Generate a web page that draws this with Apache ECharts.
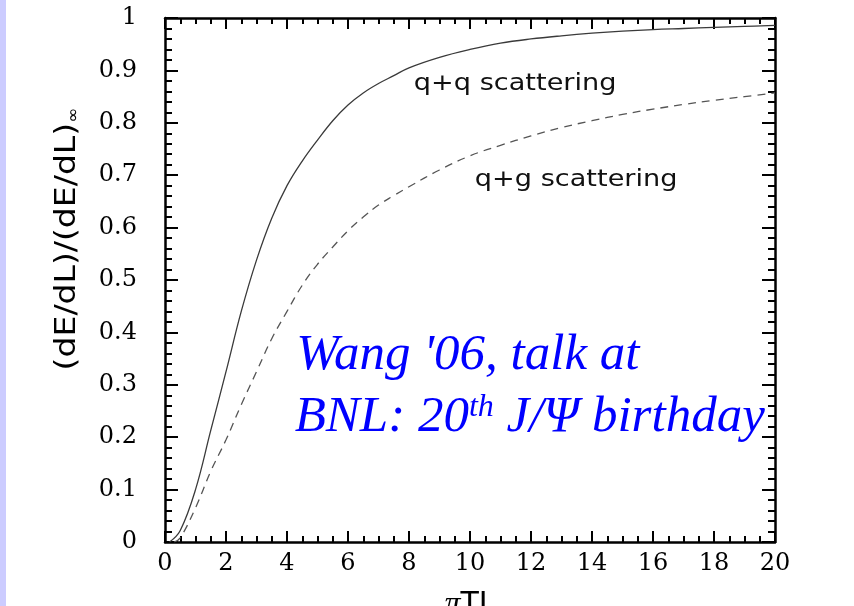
<!DOCTYPE html>
<html>
<head>
<meta charset="utf-8">
<script src="https://cdn.jsdelivr.net/npm/echarts@6/dist/echarts.min.js"></script>
<style>html,body{margin:0;padding:0;background:#fff;}#c{width:854px;height:606px;}</style>
</head>
<body>
<div id="c"></div>
<script>
// q+q scattering (solid)
const qqX = [0.15, 0.5, 1, 1.5, 2, 2.5, 3, 3.5, 4, 4.5, 5, 5.5, 6, 6.5, 7, 7.5, 8, 9, 10, 11, 12, 13, 14, 15, 16, 17, 18, 19, 20];
const qqY = [0, 0.022, 0.1, 0.213, 0.325, 0.44, 0.538, 0.618, 0.68, 0.727, 0.767, 0.804, 0.834, 0.857, 0.875, 0.89, 0.905, 0.925, 0.94, 0.952, 0.96, 0.966, 0.971, 0.975, 0.978, 0.98, 0.982, 0.984, 0.986];
// q+g scattering (dashed)
const qgX = [0.3, 0.5, 1, 1.5, 2, 2.5, 3, 3.5, 4, 4.5, 5, 5.5, 6, 6.5, 7, 7.5, 8, 9, 10, 11, 12, 13, 14, 15, 16, 17, 18, 19, 20];
const qgY = [0, 0.008, 0.065, 0.135, 0.195, 0.262, 0.325, 0.388, 0.44, 0.49, 0.53, 0.563, 0.594, 0.62, 0.643, 0.661, 0.678, 0.71, 0.737, 0.757, 0.775, 0.791, 0.804, 0.816, 0.826, 0.835, 0.843, 0.85, 0.857];
// axis ranges / labels
const xRange = [0, 20, 2];
const yRange = [0, 1, 0.1];
const xTitleParts = ['π', 'TL'];
const yTitleMain = '(dE/dL)/(dE/dL)';
const yTitleSub = '∞';
const annQQ = {text: 'q+q scattering', at: [11.48, 0.874]};
const annQG = {text: 'q+g scattering', at: [13.48, 0.691]};
const noteLine1 = {text: "Wang '06, talk at", at: [4.3, 0.355]};
const noteLine2 = {pre: 'BNL: 20', sup: 'th', post: ' J/Ψ birthday', at: [4.25, 0.238]};

const qqData = qqX.map((x, i) => [x, qqY[i]]);
const qgData = qgX.map((x, i) => [x, qgY[i]]);

const chart = echarts.init(document.getElementById('c'), null, {renderer: 'canvas'});

const tickFont = {fontFamily: 'DejaVu Serif', fontSize: 24, color: '#000'};
function xAxisCfg(pos, showLabel) {
  return {
    type: 'value', position: pos, min: xRange[0], max: xRange[1], interval: xRange[2],
    axisLine: {show: true, onZero: false, lineStyle: {color: '#000', width: 2.5}},
    axisTick: {show: true, inside: true, length: 11, lineStyle: {color: '#000', width: 2}},
    minorTick: {show: true, splitNumber: 4, length: 6, lineStyle: {color: '#000', width: 2}},
    splitLine: {show: false},
    axisLabel: Object.assign({show: showLabel, margin: 10}, tickFont),
    name: showLabel ? '{p|' + xTitleParts[0] + '}{t|' + xTitleParts[1] + '}' : '',
    nameLocation: 'middle', nameGap: 47,
    nameTextStyle: {
      rich: {
        p: {fontFamily: 'Liberation Serif', fontStyle: 'italic', fontSize: 32, color: '#000'},
        t: {fontFamily: 'DejaVu Sans', fontSize: 30, color: '#000'}
      }
    }
  };
}
function yAxisCfg(pos, showLabel) {
  return {
    type: 'value', position: pos, min: yRange[0], max: yRange[1], interval: yRange[2],
    axisLine: {show: true, onZero: false, lineStyle: {color: '#000', width: 2.5}},
    axisTick: {show: true, inside: true, length: 13, lineStyle: {color: '#000', width: 2}},
    minorTick: {show: true, splitNumber: 5, length: 7, lineStyle: {color: '#000', width: 2}},
    splitLine: {show: false},
    axisLabel: Object.assign({show: showLabel, margin: 28}, tickFont)
  };
}

chart.setOption({
  animation: false,
  backgroundColor: '#fff',
  grid: {left: 165, right: 79, top: 18, bottom: 64, outerBoundsMode: 'none', containLabel: false},
  xAxis: [xAxisCfg('bottom', true), xAxisCfg('top', false)],
  yAxis: [yAxisCfg('left', true), yAxisCfg('right', false)],
  series: [
    {name: 'q+q scattering', type: 'line', data: qqData, smooth: 0.4, showSymbol: false,
      lineStyle: {color: '#3a3a3a', width: 1.3}},
    {name: 'q+g scattering', type: 'line', data: qgData, smooth: 0.4, showSymbol: false,
      lineStyle: {color: '#555', width: 1.3, type: [8, 6]}}
  ]
});

const px = p => chart.convertToPixel({gridIndex: 0}, p);
const pQQ = px(annQQ.at), pQG = px(annQG.at), pN1 = px(noteLine1.at), pN2 = px(noteLine2.at);
const blue = '#0000ff';
const serifIt = {fontFamily: 'Liberation Serif', fontStyle: 'italic'};

chart.setOption({
  graphic: [
    {type: 'rect', left: 0, top: 0, shape: {x: 0, y: 0, width: 6, height: 606}, style: {fill: '#ccccff'}, z: 0},
    {type: 'text', x: 67, y: 239, rotation: Math.PI / 2, scaleX: 1.14,
      style: {text: '{a|' + yTitleMain + '}{b|' + yTitleSub + '}', align: 'center', verticalAlign: 'middle',
        rich: {a: {fontFamily: 'DejaVu Sans', fontSize: 29, fill: '#000'},
               b: {fontFamily: 'DejaVu Sans', fontSize: 16, fill: '#000', verticalAlign: 'bottom'}}}},
    {type: 'text', x: pQQ[0], y: pQQ[1], scaleX: 1.18,
      style: {text: annQQ.text, align: 'center', verticalAlign: 'middle', fontFamily: 'DejaVu Sans', fontSize: 23, fill: '#111'}},
    {type: 'text', x: pQG[0], y: pQG[1], scaleX: 1.18,
      style: {text: annQG.text, align: 'center', verticalAlign: 'middle', fontFamily: 'DejaVu Sans', fontSize: 23, fill: '#111'}},
    {type: 'text', x: pN1[0], y: pN1[1], z: 100,
      style: Object.assign({text: noteLine1.text, align: 'left', verticalAlign: 'middle', fontSize: 51, fill: blue}, serifIt)},
    {type: 'text', x: pN2[0], y: pN2[1], z: 100,
      style: {text: '{m|' + noteLine2.pre + '}{s|' + noteLine2.sup + '}{m|' + noteLine2.post + '}', align: 'left', verticalAlign: 'middle',
        rich: {m: Object.assign({fontSize: 51, fill: blue}, serifIt),
               s: Object.assign({fontSize: 32, fill: blue, verticalAlign: 'top'}, serifIt)}}}
  ]
});
</script>
</body>
</html>
